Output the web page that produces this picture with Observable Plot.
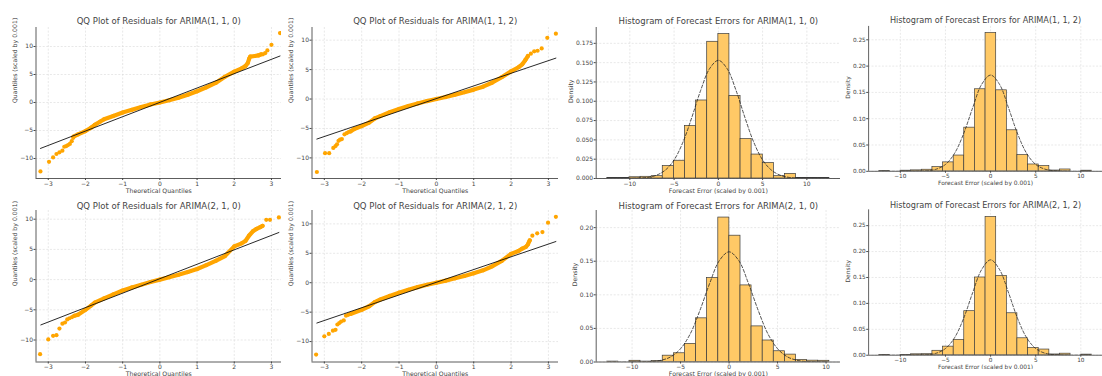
<!DOCTYPE html>
<html><head><meta charset="utf-8">
<script src="https://cdn.jsdelivr.net/npm/d3@7"></script>
<script src="https://cdn.jsdelivr.net/npm/@observablehq/plot@0.6"></script>
<style>
html,body{margin:0;padding:0;background:#fff;overflow:hidden;}
#root{position:relative;width:1102px;height:376px;overflow:hidden;font-family:"DejaVu Sans",sans-serif;}
.panel{position:absolute;}
.panel svg{display:block;}
</style></head><body><div id="root"></div>
<script>
// ---------- data ----------
const models = ["ARIMA(1, 1, 0)", "ARIMA(1, 1, 2)", "ARIMA(2, 1, 0)", "ARIMA(2, 1, 2)"];
const qqTicks = [-3, -2, -1, 0, 1, 2, 3];
const qqYTicks = [-10, -5, 0, 5, 10];
const histXTicks = [-10, -5, 0, 5, 10];
const histYTicks110 = [0, 0.025, 0.05, 0.075, 0.1, 0.125, 0.15, 0.175];
const histYTicks112 = [0, 0.05, 0.1, 0.15, 0.2, 0.25];
const histYTicks210 = [0, 0.05, 0.1, 0.15, 0.2];
const histYTicks212 = [0, 0.05, 0.1, 0.15, 0.2, 0.25];

// QQ plots: [theoretical quantile, sample quantile]
const qqTail110 = [[-3.21,-12.3],[-2.98,-10.6],[-2.87,-9.8],[-2.78,-9.2],[-2.70,-8.9],[-2.62,-8.6],[-2.57,-7.9],[-2.52,-7.8],[-2.47,-7.6],[-2.42,-7.4],[-2.37,-6.9],[-2.33,-6.3],[2.77,8.6],[2.83,8.8],[2.89,9.3],[3.00,10.3],[3.23,12.4]];
const qqBand110 = [[-2.32,-6.1],[-2.2,-5.7],[-2.0,-5.1],[-1.85,-4.5],[-1.75,-4.0],[-1.6,-3.4],[-1.5,-3.0],[-1.25,-2.4],[-1.0,-1.8],[-0.75,-1.3],[-0.5,-0.8],[-0.25,-0.35],[0,0],[0.25,0.4],[0.5,0.85],[0.75,1.4],[1.0,2.0],[1.25,2.7],[1.5,3.5],[1.75,4.6],[2.0,5.5],[2.2,6.1],[2.3,6.5],[2.36,7.0],[2.4,7.8],[2.43,8.2],[2.55,8.3],[2.65,8.4],[2.72,8.6]];
const qqRef110 = [[-3.21,-8.2],[3.23,8.3]];

const qqTail112 = [[-3.2,-12.4],[-2.98,-9.2],[-2.87,-9.2],[-2.76,-8.3],[-2.70,-8.0],[-2.66,-7.7],[-2.62,-7.1],[-2.58,-6.9],[-2.53,-6.8],[-2.46,-6.0],[-2.40,-5.8],[-2.35,-5.6],[2.53,7.7],[2.62,8.1],[2.71,8.2],[2.82,8.6],[2.97,10.4],[3.2,11.1]];
const qqBand112 = [[-2.3,-5.5],[-2.2,-5.1],[-2.0,-4.6],[-1.8,-4.0],[-1.65,-3.3],[-1.5,-2.9],[-1.25,-2.25],[-1.0,-1.7],[-0.75,-1.2],[-0.5,-0.75],[-0.25,-0.35],[0,0],[0.25,0.35],[0.5,0.75],[0.75,1.15],[1.0,1.6],[1.25,2.1],[1.5,2.8],[1.75,3.7],[2.0,4.7],[2.2,5.4],[2.3,5.9],[2.38,6.6],[2.45,7.3]];
const qqRef112 = [[-3.2,-6.8],[3.2,6.95]];

const qqTail210 = [[-3.22,-12.35],[-3.0,-9.9],[-2.87,-9.3],[-2.78,-9.2],[-2.70,-8.1],[-2.62,-7.3],[-2.55,-7.1],[-2.49,-6.6],[-2.43,-6.4],[-2.36,-6.2],[2.86,9.9],[2.96,9.9],[3.2,10.3]];
const qqBand210 = [[-2.3,-6.0],[-2.2,-5.8],[-2.0,-5.0],[-1.85,-4.3],[-1.75,-3.8],[-1.5,-3.1],[-1.25,-2.45],[-1.0,-1.8],[-0.75,-1.3],[-0.5,-0.85],[-0.25,-0.4],[0,0],[0.25,0.4],[0.5,0.8],[0.75,1.25],[1.0,1.75],[1.25,2.4],[1.5,3.1],[1.75,3.9],[2.0,5.5],[2.2,6.0],[2.3,6.4],[2.4,7.3],[2.5,8.0],[2.6,8.4],[2.7,8.7],[2.76,8.9]];
const qqRef210 = [[-3.2,-7.5],[3.2,7.8]];

const qqTail212 = [[-3.22,-12.2],[-3.0,-9.1],[-2.88,-8.7],[-2.77,-8.15],[-2.70,-8.0],[-2.65,-7.1],[-2.60,-6.85],[-2.55,-6.6],[-2.48,-6.4],[-2.42,-5.6],[-2.36,-5.45],[2.57,8.0],[2.70,8.4],[2.84,8.6],[2.99,10.2],[3.2,11.2]];
const qqBand212 = [[-2.3,-5.3],[-2.0,-4.6],[-1.8,-4.0],[-1.65,-3.3],[-1.5,-2.85],[-1.25,-2.25],[-1.0,-1.7],[-0.75,-1.2],[-0.5,-0.75],[-0.25,-0.35],[0,0],[0.25,0.35],[0.5,0.75],[0.75,1.15],[1.0,1.6],[1.25,2.1],[1.5,2.8],[1.75,3.7],[2.0,4.9],[2.2,5.4],[2.3,5.8],[2.4,6.1],[2.45,6.5],[2.5,7.2]];
const qqRef212 = [[-3.2,-6.85],[3.2,7.0]];

// Histograms: bin edges and densities
const edges110 = [-12.55,-11.30,-10.04,-8.79,-7.53,-6.28,-5.02,-3.77,-2.51,-1.26,0.00,1.25,2.51,3.76,5.02,6.27,7.53,8.78,10.04,11.29,12.55];
const heights110 = [0.0005,0.0005,0.0016,0.0022,0.003,0.016,0.023,0.068,0.101,0.177,0.187,0.107,0.051,0.031,0.020,0.003,0.006,0.0005,0.0005,0.0005];
const edges112 = [-12.34,-11.16,-9.98,-8.81,-7.63,-6.45,-5.27,-4.09,-2.92,-1.74,-0.56,0.62,1.80,2.97,4.15,5.33,6.51,7.69,8.86,10.04,11.22];
const heights112 = [0.0006,0,0.0012,0.0018,0.003,0.008,0.017,0.030,0.083,0.156,0.263,0.154,0.078,0.031,0.013,0.010,0.0015,0.0035,0,0.0012];
const edges210 = [-12.56,-11.42,-10.27,-9.13,-7.98,-6.84,-5.69,-4.55,-3.40,-2.26,-1.11,0.03,1.18,2.32,3.47,4.61,5.76,6.90,8.05,9.19,10.34];
const heights210 = [0.0006,0,0.0018,0.0006,0.0015,0.0094,0.013,0.027,0.065,0.125,0.215,0.188,0.114,0.053,0.032,0.016,0.011,0.003,0.002,0.0018];
const edges212 = [-12.34,-11.16,-9.98,-8.81,-7.63,-6.45,-5.27,-4.09,-2.92,-1.74,-0.56,0.62,1.80,2.97,4.15,5.33,6.51,7.69,8.86,10.04,11.22];
const heights212 = [0.0006,0,0.0006,0.0018,0.002,0.0086,0.0166,0.0296,0.085,0.150,0.267,0.153,0.081,0.0327,0.014,0.011,0.0015,0.003,0,0.0012];

// Fitted normal curves (dashed), read at these x positions
const pdfX = [-12.5,-12,-11,-10,-9,-8,-7,-6,-5,-4,-3,-2,-1,0,1,2,3,4,5,6,7,8,9,10,11,12,12.5];
const pdfY110 = [0,0,0,0.0001,0.0004,0.0014,0.0042,0.0108,0.024,0.047,0.079,0.114,0.142,0.153,0.142,0.114,0.079,0.047,0.024,0.0108,0.0042,0.0014,0.0004,0.0001,0,0,0];
const pdfY112 = [0,0,0,0,0,0.0002,0.0011,0.0042,0.013,0.034,0.071,0.120,0.165,0.183,0.165,0.120,0.071,0.034,0.013,0.0042,0.0011,0.0002,0,0,0,0,0];
const pdfY210 = [0,0,0,0,0.0002,0.0007,0.0026,0.0078,0.0198,0.042,0.077,0.117,0.151,0.164,0.151,0.117,0.077,0.042,0.0198,0.0078,0.0026,0.0007,0.0002,0,0,0,0];
const pdfY212 = [0,0,0,0,0,0.0002,0.0010,0.0040,0.0129,0.0336,0.0706,0.120,0.165,0.184,0.165,0.120,0.0706,0.0336,0.0129,0.0040,0.0010,0.0002,0,0,0,0,0];

// ---------- drawing ----------
const root = document.getElementById("root");
const ORANGE = "#ffa500";
const TEXT = "#444";
const gridStyle = {stroke: "#d9d9d9", strokeOpacity: 1, strokeWidth: 0.6, strokeDasharray: "2,1.6"};

function addPanel(cfg) {
  const svg = Plot.plot({
    width: cfg.width, height: cfg.height,
    marginLeft: cfg.ml, marginRight: 0, marginTop: cfg.mt, marginBottom: cfg.mb,
    style: {fontFamily: "'DejaVu Sans', sans-serif", fontSize: "6px", color: TEXT, background: "transparent"},
    x: {domain: cfg.xDomain},
    y: {domain: cfg.yDomain},
    marks: [
      Plot.gridX(cfg.xTicks, gridStyle),
      Plot.gridY(cfg.yTicks, gridStyle),
      ...cfg.marks,
      Plot.ruleX([cfg.xDomain[0]], {stroke: "#333", strokeWidth: 0.8}),
      Plot.ruleY([cfg.yDomain[0]], {stroke: "#333", strokeWidth: 0.8}),
      Plot.axisX(cfg.xTicks, {tickSize: 2, tickPadding: 1, tickFormat: d3.format("d"), label: null, fontSize: 6}),
      Plot.axisY(cfg.yTicks, {tickSize: 2, tickPadding: 1, tickFormat: cfg.yFormat, label: null, fontSize: 6}),
      Plot.text([cfg.title], {text: d => d, frameAnchor: "top", dy: cfg.titleDy, lineAnchor: "middle", fontSize: 8.5, fill: TEXT}),
      Plot.text([cfg.xLabel], {text: d => d, frameAnchor: "bottom", dy: 12.5, lineAnchor: "middle", fontSize: 6.2, fill: TEXT}),
      Plot.text([cfg.yLabel], {text: d => d, frameAnchor: "left", dx: -cfg.yLabelDx, rotate: -90, lineAnchor: "middle", fontSize: 6.2, fill: TEXT})
    ]
  });
  const div = document.createElement("div");
  div.className = "panel";
  div.style.left = cfg.left + "px";
  div.style.top = cfg.top + "px";
  div.appendChild(svg);
  root.appendChild(div);
}

function qqMarks(band, tail, ref) {
  return [
    Plot.line(band, {stroke: ORANGE, strokeWidth: 4.2, strokeLinecap: "round", strokeLinejoin: "round", clip: true}),
    Plot.dot(band, {fill: ORANGE, r: 2.1, clip: true}),
    Plot.dot(tail, {fill: ORANGE, r: 2.1, clip: true}),
    Plot.line(ref, {stroke: "#111", strokeWidth: 0.9, clip: true})
  ];
}
function histMarks(edges, heights, pdfY) {
  const bins = heights.map((h, i) => ({x1: edges[i], x2: edges[i + 1], h}));
  const curve = pdfX.map((x, i) => [x, pdfY[i]]).filter(d => d[0] >= edges[0] - 0.01 && d[0] <= edges[edges.length - 1] + 0.01);
  return [
    Plot.rect(bins, {x1: "x1", x2: "x2", y1: () => 0, y2: "h", fill: "#ffc966", stroke: "#3a3a3a", strokeWidth: 0.7, clip: true}),
    Plot.line(curve, {curve: "catmull-rom", stroke: "#222", strokeWidth: 0.8, strokeDasharray: "3,2", clip: true})
  ];
}

const TOP = {top: 0, height: 194, mt: 27, mb: 16, titleDy: -6.7};
const BOT = {top: 194, height: 182, mt: 16, mb: 14.5, titleDy: -4.6};
const COLS = [
  {left: 0, width: 281, ml: 35.5},
  {left: 281, width: 277, ml: 30.5},
  {left: 558, width: 282, ml: 37.7},
  {left: 840, width: 273, ml: 29.3}
];
const qqX = [-3.33, 3.27];
const qqLabelX = "Theoretical Quantiles", qqLabelY = "Quantiles (scaled by 0.001)";
const hLabelX = "Forecast Error (scaled by 0.001)", hLabelY = "Density";

// Row 1
addPanel({...TOP, ...COLS[0], xDomain: qqX, yDomain: [-13.57, 13.39], xTicks: qqTicks, yTicks: qqYTicks, yFormat: d3.format("d"),
  title: "QQ Plot of Residuals for " + models[0], xLabel: qqLabelX, yLabel: qqLabelY, yLabelDx: 20.5,
  marks: qqMarks(qqBand110, qqTail110, qqRef110)});
addPanel({...TOP, ...COLS[1], xDomain: qqX, yDomain: [-13.5, 12.15], xTicks: qqTicks, yTicks: qqYTicks, yFormat: d3.format("d"),
  title: "QQ Plot of Residuals for " + models[1], xLabel: qqLabelX, yLabel: qqLabelY, yLabelDx: 20.5,
  marks: qqMarks(qqBand112, qqTail112, qqRef112)});
addPanel({...TOP, ...COLS[2], xDomain: [-13.8, 13.8], yDomain: [0, 0.1955], xTicks: histXTicks, yTicks: histYTicks110, yFormat: d3.format(".3f"),
  title: "Histogram of Forecast Errors for " + models[0], xLabel: hLabelX, yLabel: hLabelY, yLabelDx: 25,
  marks: histMarks(edges110, heights110, pdfY110)});
addPanel({...TOP, ...COLS[3], xDomain: [-13.52, 12.4], yDomain: [0, 0.2755], xTicks: histXTicks, yTicks: histYTicks112, yFormat: d3.format(".2f"),
  title: "Histogram of Forecast Errors for " + models[1], xLabel: hLabelX, yLabel: hLabelY, yLabelDx: 21.5,
  marks: histMarks(edges112, heights112, pdfY112)});
// Row 2
addPanel({...BOT, ...COLS[0], xDomain: qqX, yDomain: [-13.64, 11.44], xTicks: qqTicks, yTicks: qqYTicks, yFormat: d3.format("d"),
  title: "QQ Plot of Residuals for " + models[2], xLabel: qqLabelX, yLabel: qqLabelY, yLabelDx: 20.5,
  marks: qqMarks(qqBand210, qqTail210, qqRef210)});
addPanel({...BOT, ...COLS[1], xDomain: qqX, yDomain: [-13.47, 12.27], xTicks: qqTicks, yTicks: qqYTicks, yFormat: d3.format("d"),
  title: "QQ Plot of Residuals for " + models[3], xLabel: qqLabelX, yLabel: qqLabelY, yLabelDx: 20.5,
  marks: qqMarks(qqBand212, qqTail212, qqRef212)});
addPanel({...BOT, ...COLS[2], xDomain: [-13.7, 11.49], yDomain: [0, 0.2255], xTicks: histXTicks, yTicks: histYTicks210, yFormat: d3.format(".2f"),
  title: "Histogram of Forecast Errors for " + models[2], xLabel: hLabelX, yLabel: hLabelY, yLabelDx: 20.7,
  marks: histMarks(edges210, heights210, pdfY210)});
addPanel({...BOT, ...COLS[3], xDomain: [-13.52, 12.4], yDomain: [0, 0.2805], xTicks: histXTicks, yTicks: histYTicks212, yFormat: d3.format(".2f"),
  title: "Histogram of Forecast Errors for " + models[3], xLabel: hLabelX, yLabel: hLabelY, yLabelDx: 21.5,
  marks: histMarks(edges212, heights212, pdfY212)});
</script>
</body></html>
